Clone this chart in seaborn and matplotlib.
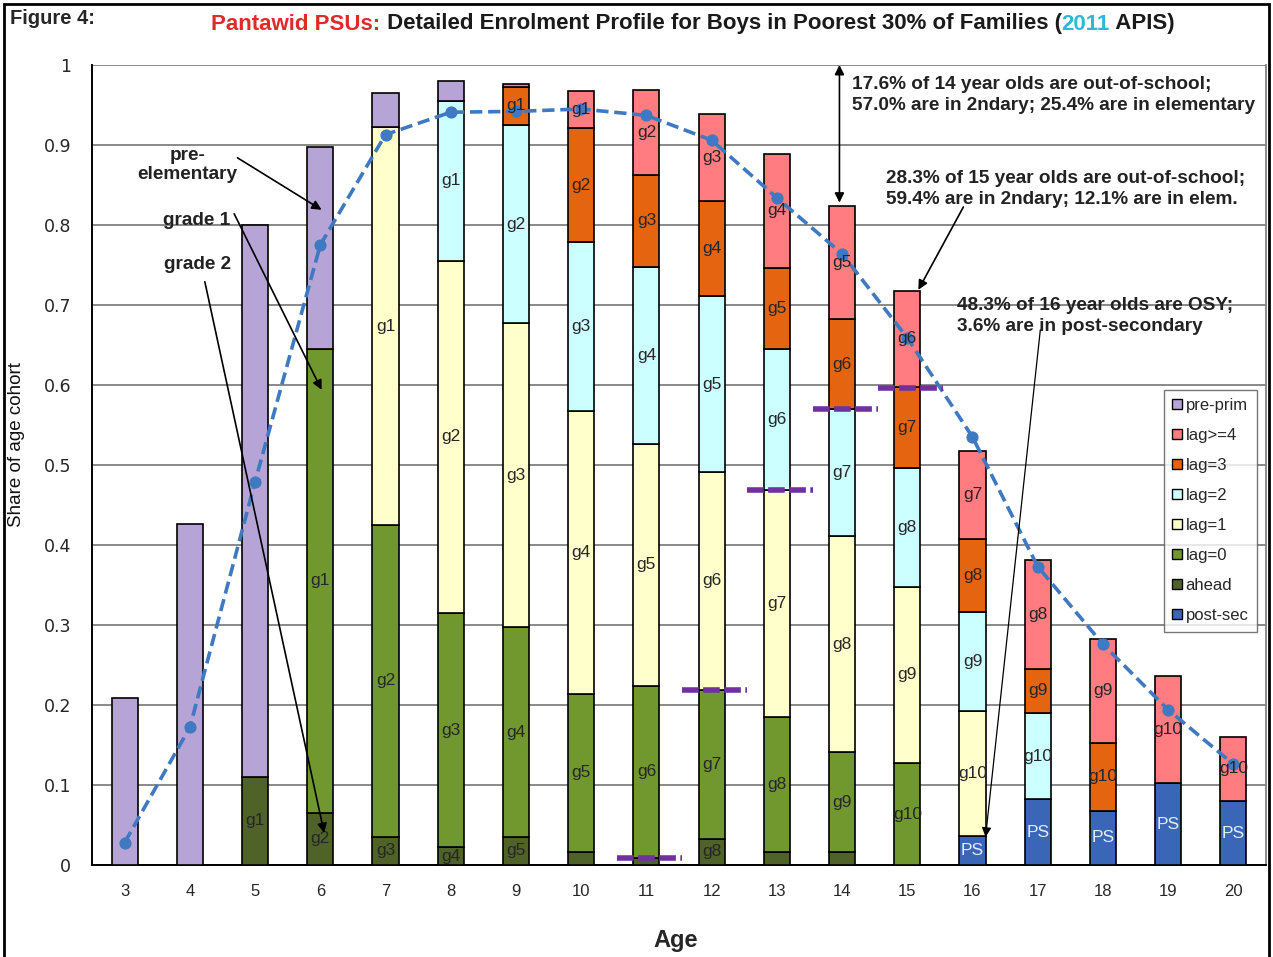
import numpy as np
import seaborn as sns
import matplotlib
matplotlib.use('Agg')
from matplotlib import pyplot as plt
from matplotlib.patches import Patch, Rectangle

# ---- data (share of age cohort), ages 3..20 ----
ages = list(range(3, 21))

post_sec = [0, 0, 0, 0, 0, 0, 0, 0, 0, 0, 0, 0, 0, 0.036, 0.082, 0.068, 0.102, 0.080]
ahead = [0, 0, 0.110, 0.065, 0.035, 0.022, 0.035, 0.016, 0.009, 0.033, 0.016, 0.016, 0, 0, 0, 0, 0, 0]
lag0 = [0, 0, 0, 0.580, 0.390, 0.293, 0.262, 0.198, 0.215, 0.186, 0.169, 0.125, 0.127, 0, 0, 0, 0, 0]
lag1 = [0, 0, 0, 0, 0.497, 0.440, 0.380, 0.353, 0.302, 0.272, 0.284, 0.270, 0.221, 0.156, 0, 0, 0, 0]
lag2 = [0, 0, 0, 0, 0, 0.200, 0.248, 0.212, 0.221, 0.220, 0.176, 0.159, 0.148, 0.124, 0.108, 0, 0, 0]
lag3 = [0, 0, 0, 0, 0, 0, 0.048, 0.142, 0.116, 0.119, 0.101, 0.112, 0.101, 0.092, 0.055, 0.084, 0, 0]
lag4 = [0, 0, 0, 0, 0, 0, 0.003, 0.047, 0.106, 0.109, 0.143, 0.142, 0.121, 0.110, 0.136, 0.131, 0.134, 0.080]
pre_prim = [0.209, 0.426, 0.690, 0.252, 0.043, 0.025, 0, 0, 0, 0, 0, 0, 0, 0, 0, 0, 0, 0]

# grade labels written inside the segments
lbl_post = [''] * 13 + ['PS', 'PS', 'PS', 'PS', 'PS']
lbl_ahead = ['', '', 'g1', 'g2', 'g3', 'g4', 'g5', '', '', 'g8', '', '', '', '', '', '', '', '']
lbl_lag0 = ['', '', '', 'g1', 'g2', 'g3', 'g4', 'g5', 'g6', 'g7', 'g8', 'g9', 'g10', '', '', '', '', '']
lbl_lag1 = ['', '', '', '', 'g1', 'g2', 'g3', 'g4', 'g5', 'g6', 'g7', 'g8', 'g9', 'g10', '', '', '', '']
lbl_lag2 = ['', '', '', '', '', 'g1', 'g2', 'g3', 'g4', 'g5', 'g6', 'g7', 'g8', 'g9', 'g10', '', '', '']
lbl_lag3 = ['', '', '', '', '', '', 'g1', 'g2', 'g3', 'g4', 'g5', 'g6', 'g7', 'g8', 'g9', 'g10', '', '']
lbl_lag4 = ['', '', '', '', '', '', '', 'g1', 'g2', 'g3', 'g4', 'g5', 'g6', 'g7', 'g8', 'g9', 'g10', 'g10']
lbl_pre = [''] * 18

# overall enrolment line
enrolled = [0.028, 0.172, 0.479, 0.775, 0.913, 0.941, 0.942, 0.945, 0.937, 0.906,
            0.834, 0.764, 0.659, 0.535, 0.373, 0.276, 0.194, 0.126]

# purple markers: share already in secondary
sec_ages = [11, 12, 13, 14, 15]
sec_share = [0.009, 0.219, 0.469, 0.570, 0.596]

series = [
    ('post-sec', post_sec, lbl_post, '#3A66B8'),
    ('ahead', ahead, lbl_ahead, '#4F6228'),
    ('lag=0', lag0, lbl_lag0, '#71972F'),
    ('lag=1', lag1, lbl_lag1, '#FFFFCC'),
    ('lag=2', lag2, lbl_lag2, '#CCFFFF'),
    ('lag=3', lag3, lbl_lag3, '#E4640F'),
    ('lag>=4', lag4, lbl_lag4, '#FF7C80'),
    ('pre-prim', pre_prim, lbl_pre, '#B7A4D6'),
]
legend_order = ['pre-prim', 'lag>=4', 'lag=3', 'lag=2', 'lag=1', 'lag=0', 'ahead', 'post-sec']

sns.set_style('white')
plt.rcParams['font.family'] = ['Liberation Sans', 'DejaVu Sans']

W, H = 1273, 957
fig = plt.figure(figsize=(W / 100, H / 100), dpi=100)
ax = fig.add_axes([92 / W, 1 - 865 / H, (1266 - 92) / W, (865 - 65) / H])

x = np.arange(len(ages))
bottom = np.zeros(len(ages))
for name, vals, lbls, col in series:
    vals = np.array(vals, dtype=float)
    keep = vals > 0
    ax.bar(x[keep], vals[keep], bottom=bottom[keep], width=0.4, color=col,
           edgecolor='black', linewidth=1.2, zorder=3)
    for i in np.where(keep)[0]:
        if lbls[i]:
            tc = '#E6ECF8' if name == 'post-sec' else '#262626'
            ax.text(x[i], bottom[i] + vals[i] / 2, lbls[i], ha='center', va='center',
                    fontsize=12.5, color=tc, zorder=6)
    bottom = bottom + vals

# enrolment line
sns.lineplot(x=x, y=enrolled, ax=ax, color='#3E79C2', linestyle=(0, (3.4, 1.6)), lw=2.6,
             marker='o', markersize=8, markeredgecolor='#3E79C2', zorder=5)

# secondary share markers
for a, s in zip(sec_ages, sec_share):
    i = ages.index(a)
    ax.plot([i - 0.45, i + 0.55], [s, s], color='#7030A0', lw=4, linestyle=(0, (3, 0.8)),
            solid_capstyle='butt', zorder=7)

ax.set_xlim(-0.5, len(ages) - 0.5)
ax.set_ylim(0, 1)
ax.set_yticks(np.arange(0, 1.01, 0.1))
ax.set_yticklabels(['0', '0.1', '0.2', '0.3', '0.4', '0.5', '0.6', '0.7', '0.8', '0.9', '1'],
                   fontsize=12.5, family='DejaVu Sans')
ax.set_xticks(x)
ax.set_xticklabels([str(a) for a in ages], fontsize=12)
ax.set_xticks(np.arange(-0.5, len(ages)), minor=True)
ax.tick_params(axis='x', which='major', length=0, pad=14)
ax.tick_params(axis='x', which='minor', length=7, width=1.2, color='black', direction='out')
ax.tick_params(axis='y', length=6, width=1.2, color='black', direction='out', pad=9)
ax.yaxis.grid(True, color='#808080', lw=1.3)
ax.set_axisbelow(True)
for sp in ['left', 'bottom']:
    ax.spines[sp].set_color('black')
    ax.spines[sp].set_linewidth(1.4)
ax.spines['top'].set_visible(False)
ax.spines['right'].set_color('#808080')
ax.spines['right'].set_linewidth(1.3)

# legend
col_of = {n: c for n, _, _, c in series}
handles = [Patch(facecolor=col_of[n], edgecolor='black', linewidth=1.0) for n in legend_order]
leg = ax.legend(handles, legend_order, loc='upper left', bbox_to_anchor=(1164 / W, 1 - 390 / H),
                bbox_transform=fig.transFigure, fontsize=12, frameon=True, fancybox=False,
                edgecolor='#555555', handlelength=0.55, handleheight=0.55, handletextpad=0.25,
                labelspacing=0.9, borderpad=0.5, borderaxespad=0)
leg.get_frame().set_linewidth(1.0)
leg.set_zorder(8)

# annotations
arrow = dict(arrowstyle='-|>', color='black', lw=1.2, mutation_scale=14, shrinkA=0, shrinkB=0)
bold = dict(fontsize=13.7, fontweight='bold', color='#222222')
ax.text(0.96, 0.875, 'pre-\nelementary', ha='center', va='center', linespacing=1.15, zorder=9, **bold)
ax.annotate('', xy=(3.02, 0.819), xytext=(1.73, 0.884), arrowprops=arrow, zorder=9)
ax.text(1.10, 0.806, 'grade 1', ha='center', va='center', zorder=9, **bold)
ax.annotate('', xy=(3.02, 0.594), xytext=(1.68, 0.814), arrowprops=arrow, zorder=9)
ax.text(1.12, 0.751, 'grade 2', ha='center', va='center', zorder=9, **bold)
ax.annotate('', xy=(3.06, 0.04), xytext=(1.23, 0.729), arrowprops=arrow, zorder=9)

ax.annotate('', xy=(10.96, 0.828), xytext=(10.96, 1.0),
            arrowprops=dict(arrowstyle='<|-|>', color='black', lw=1.2, mutation_scale=14,
                            shrinkA=0, shrinkB=0), zorder=9, annotation_clip=False)
ax.text(11.15, 0.9625, '17.6% of 14 year olds are out-of-school;\n57.0% are in 2ndary; 25.4% are in elementary',
        ha='left', va='center', linespacing=1.3, zorder=9, **bold)
ax.text(11.68, 0.845, '28.3% of 15 year olds are out-of-school;\n59.4% are in 2ndary; 12.1% are in elem.',
        ha='left', va='center', linespacing=1.3, zorder=9, **bold)
ax.annotate('', xy=(12.17, 0.719), xytext=(12.86, 0.8225), arrowprops=arrow, zorder=9)
ax.text(12.76, 0.686, '48.3% of 16 year olds are OSY;\n3.6% are in post-secondary',
        ha='left', va='center', linespacing=1.3, zorder=9, **bold)
ax.annotate('', xy=(13.2, 0.035), xytext=(14.04, 0.669),
            arrowprops=dict(arrowstyle='-|>', color='black', lw=0.9, mutation_scale=14,
                            shrinkA=0, shrinkB=0), zorder=9)

# axis titles
fig.text(676 / W, 1 - 940 / H, 'Age', ha='center', va='center', fontsize=17, fontweight='bold')
fig.text(17 / W, 1 - 445 / H, 'Share of age cohort', ha='center', va='center', rotation=90,
         fontsize=13.5, color='#111111')

# figure label and multi-coloured title
fig.text(10 / W, 1 - 18 / H, 'Figure 4:', ha='left', va='center', fontsize=14.5, fontweight='bold')
pieces = [('Pantawid PSUs:', '#E02A2A'),
          (' Detailed Enrolment Profile for Boys in Poorest 30% of Families (', '#1A1A1A'),
          ('2011', '#2EB8D8'),
          (' APIS)', '#1A1A1A')]
renderer = fig.canvas.get_renderer()
txts = [fig.text(0, 1 - 24 / H, s, color=c, ha='left', va='center', fontsize=16,
                 fontweight='bold') for s, c in pieces]
widths = [t.get_window_extent(renderer).width for t in txts]
xpos = 693 - sum(widths) / 2
for t, w in zip(txts, widths):
    t.set_x(xpos / W)
    xpos += w

# outer frame of the figure
fig.add_artist(Rectangle((4 / W, -0.01), (1269 - 4) / W, 1 - 4 / H + 0.01, transform=fig.transFigure,
                         fill=False, edgecolor='black', lw=2))

fig.savefig('out.png', dpi=100)
